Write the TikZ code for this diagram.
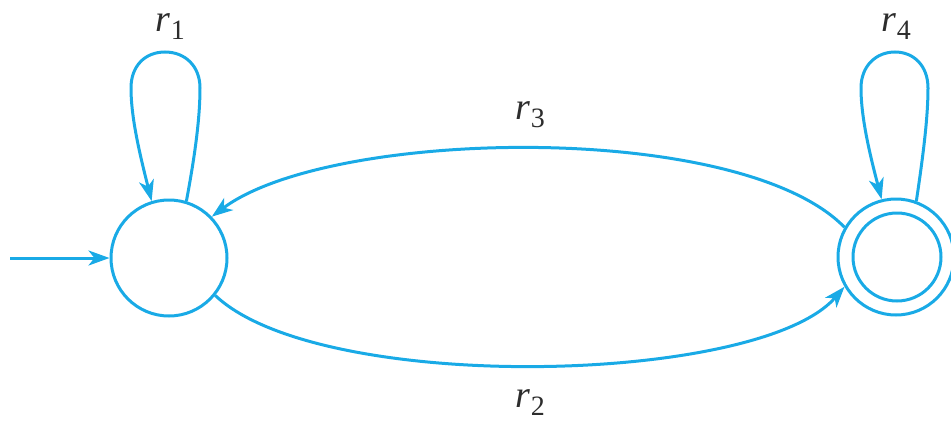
\documentclass[tikz,border=0pt]{standalone}
\usepackage{fontspec}
\setmainfont{Liberation Serif}
\usetikzlibrary{arrows.meta}
\definecolor{fsm}{RGB}{25,170,230}
\definecolor{lbl}{RGB}{45,45,45}
\newcommand{\lab}[2]{\fontsize{38}{42}\selectfont\textit{#1}\kern1pt\raisebox{-8pt}{\fontsize{28}{28}\selectfont #2}}
\begin{document}
\begin{tikzpicture}[x=1pt,y=-1pt,
  edge/.style={draw=fsm,line width=3pt,-{Stealth[length=21pt,width=15pt,inset=6pt]}},
  state/.style={circle,draw=fsm,line width=3pt,minimum size=116pt,inner sep=0pt},
  acc/.style={circle,draw=fsm,line width=3pt,minimum size=88pt,inner sep=0pt},
  tlabel/.style={text=lbl,inner sep=0pt}]
\useasboundingbox (0,0) rectangle (951,423);
\node[state] (L) at (169,258) {};
\node[state] (R) at (896,257) {};
\node[acc] (Ri) at (897,257) {};
\coordinate (s) at (10,258);
% left loop waypoints
\coordinate (a1) at (200,88);
\coordinate (t1) at (165,52);
\coordinate (b1) at (131,88);
% right loop waypoints
\coordinate (a4) at (928,88);
\coordinate (t4) at (895,52);
\coordinate (b4) at (861,88);
\draw[edge] (s) -- (L.west);
\draw[edge] (L.73) .. controls (196,150) and (200,115) .. (a1)
  .. controls (200,66) and (185,52) .. (t1)
  .. controls (145,52) and (131,66) .. (b1)
  .. controls (131,118) and (140,155) .. (L.107);
\draw[edge] (R.70) .. controls (924,150) and (928,115) .. (a4)
  .. controls (928,66) and (914,52) .. (t4)
  .. controls (876,52) and (861,66) .. (b4)
  .. controls (861,118) and (870,155) .. (R.104);
\draw[edge] (R.150) .. controls (740,120) and (330,128) .. (L.44);
\draw[edge] (L.-39) .. controls (320,395) and (760,385) .. (R.210);
\node[tlabel] (l1) at (170,27) {\lab{r}{1}};
\node[tlabel] (l4) at (896,27) {\lab{r}{4}};
\node[tlabel] (l3) at (530,115) {\lab{r}{3}};
\node[tlabel] (l2) at (530,403) {\lab{r}{2}};
\end{tikzpicture}
\end{document}
